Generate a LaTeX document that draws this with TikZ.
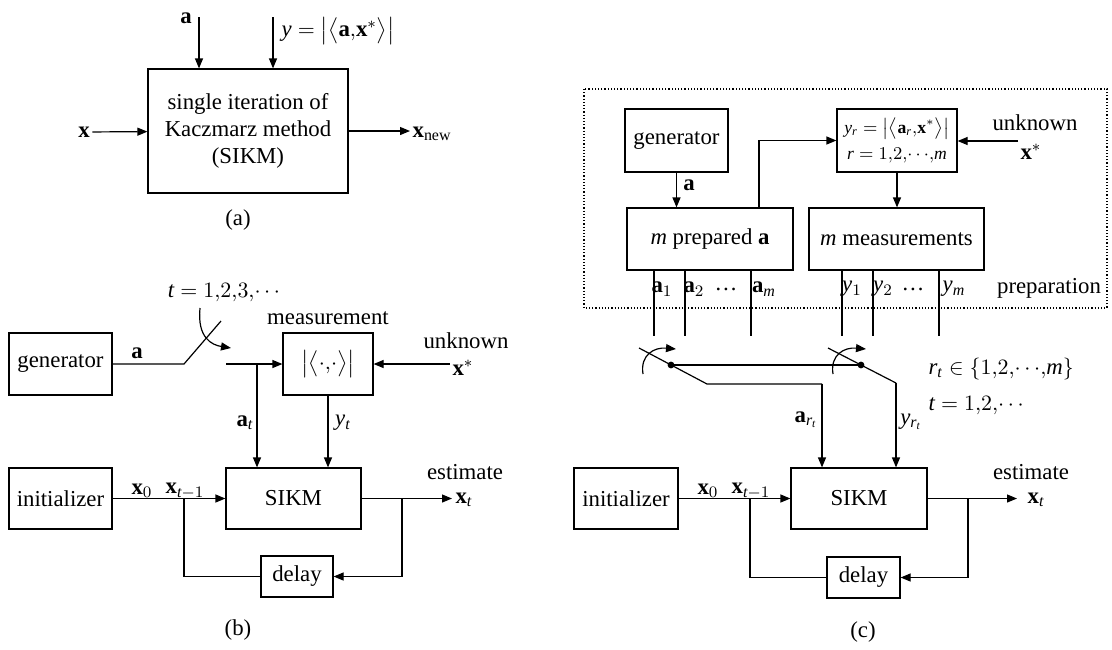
\documentclass[tikz,border=0pt]{standalone}
\usepackage{amsmath}
\usepackage{fontspec}
\setmainfont{Liberation Serif}
\usetikzlibrary{positioning,calc,arrows.meta}

\begin{document}
\begin{tikzpicture}[x=0.5pt, y=-0.5pt, >={Triangle[length=5pt,width=4pt]}, line width=0.6pt]
	\useasboundingbox (0,0) rectangle (1112,649);
	\tikzstyle{every node}=[align=center, inner sep=1pt, font=\fontsize{11.4}{13.5}\selectfont]
	\tikzstyle{blk}=[draw, inner sep=0pt]
	\tikzstyle{small}=[font=\fontsize{8.8}{12}\selectfont]

	% (a)
	\begin{scope}
		\node [blk, minimum width=100pt, minimum height=62pt] (sikmA) at (248, 131) {single iteration of\\Kaczmarz method\\(SIKM)};
		\node (xA) at (84, 132) {$\mathbf{x}$};
		\node [anchor=west] (xnewA) at (410, 134) {$\mathbf{x}_{\mathrm{new}}$};
		\node (aLabA) at (186, 18) {$\mathbf{a}$};
		\node [anchor=west] (yLabA) at (279, 31) {$\mathit{y}=\bigl|\bigl\langle\mathbf{a},\!\mathbf{x}^*\bigr\rangle\bigr|$};
		\node (capA) at (238, 220) {(a)};
		\coordinate (aA) at (199, 17);
		\coordinate (yA) at (273, 17);

		\draw [->] (aA) to (aA |- sikmA.north);
		\draw [->] (yA) to (yA |- sikmA.north);
		\draw [->] (xA) to (sikmA);
		\draw [->] (sikmA.east) to (sikmA.east -| xnewA.west);
	\end{scope}

	% (b)
	\begin{scope}
		\node [blk, minimum width=51.5pt, minimum height=31pt] (genB) at (60.5, 364) {generator};
		\node [blk, minimum width=45pt, minimum height=31pt] (measB) at (328, 364) {$\bigl|\bigl\langle\cdot,\!\cdot\bigr\rangle\bigr|$};
		\node (measLabB) at (328, 318) {measurement};
		\node (tB) at (224, 293) {$\mathit{t}=1,\!2,\!3,\!{\cdots}$};
		\node (aLabB) at (137, 353) {$\mathbf{a}$};
		\node (xsB) at (463, 368) {$\mathbf{x}^*$};
		\node (unkB) at (466, 341) {unknown};
		\node [blk, minimum width=51.5pt, minimum height=30.5pt] (initB) at (60.5, 498.5) {initializer};
		\node [blk, minimum width=67.5pt, minimum height=30.5pt] (sikmB) at (293.5, 498.5) {SIKM};
		\node [blk, minimum width=36pt, minimum height=20.5pt] (delayB) at (297, 576.5) {delay};
		\node (atB) at (245, 423) {$\mathbf{a}_{\mathit{t}}$};
		\node (ytB) at (343, 423) {$\mathit{y}_{\mathit{t}}$};
		\node (x0B) at (142, 491) {$\mathbf{x}_0$};
		\node (xt1B) at (185, 491) {$\mathbf{x}_{\mathit{t}-1}$};
		\node (estB) at (465, 472) {estimate};
		\node (xtB) at (464, 500) {$\mathbf{x}_{\mathit{t}}$};
		\node (capB) at (238, 630) {(b)};
		\coordinate (sw1B) at (184, 364);
		\coordinate (sw2B) at (221, 321);
		\coordinate (sw3B) at (226, 364);
		\coordinate (j1B) at (257, 364);
		\coordinate (j2B) at (184, 498.5);
		\coordinate (j3B) at (402, 498.5);
		\coordinate (tipB) at (452, 498.5);

		\draw [] (genB) to (sw1B) to (sw2B);
		\draw [->] (200, 308) .. controls (197, 338) and (212, 345) .. (231, 348);
		\draw [->] (sw3B) to (measB);
		\draw [->] (j1B) to (j1B |- sikmB.north);
		\draw [->] (measB.south) to (measB.south |- sikmB.north);
		\draw [->] (xsB.west |- measB.east) to (measB.east);
		\draw [->] (initB) to (sikmB);
		\draw [] (j2B) |- (delayB.west);
		\draw [->] (sikmB.east) to (tipB);
		\draw [->] (j3B) |- (delayB.east);
	\end{scope}

	% (c)
	\begin{scope}
		\draw [densely dotted] (584, 89) rectangle (1107, 308);
		\node [blk, minimum width=51.5pt, minimum height=31.5pt] (genC) at (676.5, 140.5) {generator};
		\node [blk, minimum width=60pt, minimum height=31.5pt, small] (formC) at (897, 140.5) {$\mathit{y}_{\mathit{r}}=\bigl|\bigl\langle\mathbf{a}_{\mathit{r}},\!\mathbf{x}^*\bigr\rangle\bigr|$\\[1pt]$\mathit{r}=1,\!2,\!{\cdots},\!\mathit{m}$};
		\node [blk, minimum width=83pt, minimum height=31pt] (prepC) at (710, 239) {$\mathit{m}$ prepared $\mathbf{a}$};
		\node [blk, minimum width=87.5pt, minimum height=31pt] (measC) at (896.5, 239) {$\mathit{m}$ measurements};
		\node (aLabC) at (689, 185) {$\mathbf{a}$};
		\node (xsC) at (1031, 152) {$\mathbf{x}^*$};
		\node (unkC) at (1035, 123) {unknown};
		\node (prepLabC) at (1049, 288) {preparation};
		\node (a1C) at (662, 289) {$\mathbf{a}_1$};
		\node (a2C) at (694, 289) {$\mathbf{a}_2$};
		\node (adC) at (726, 289) {\dots};
		\node (amC) at (764, 289) {$\mathbf{a}_{\mathit{m}}$};
		\node (y1C) at (852, 289) {$\mathit{y}_1$};
		\node (y2C) at (883, 289) {$\mathit{y}_2$};
		\node (ydC) at (913, 289) {\dots};
		\node (ymC) at (954, 289) {$\mathit{y}_{\mathit{m}}$};
		\node [anchor=west] (rtC) at (926, 369) {$\mathit{r}_{\mathit{t}}\in\left\{1,\!2,\!{\cdots},\!\mathit{m}\right\}$};
		\node [anchor=west] (ttC) at (926, 406) {$\mathit{t}=1,\!2,\!{\cdots}$};
		\node (artC) at (806, 420) {$\mathbf{a}_{\mathit{r}_{\mathit{t}}}$};
		\node (yrtC) at (911, 422) {$\mathit{y}_{\mathit{r}_{\mathit{t}}}$};
		\node [blk, minimum width=52pt, minimum height=30.5pt] (initC) at (626, 498.5) {initializer};
		\node [blk, minimum width=68pt, minimum height=30.5pt] (sikmC) at (859, 498.5) {SIKM};
		\node [blk, minimum width=36.5pt, minimum height=20.5pt] (delayC) at (863.5, 577.5) {delay};
		\node (x0C) at (708, 491) {$\mathbf{x}_0$};
		\node (xt1C) at (751, 491) {$\mathbf{x}_{\mathit{t}-1}$};
		\node (estC) at (1031, 472) {estimate};
		\node (xtC) at (1036, 500) {$\mathbf{x}_{\mathit{t}}$};
		\node (capC) at (863, 632) {(c)};
		\coordinate (pvLC) at (671, 365);
		\coordinate (pvRC) at (861, 365);
		\coordinate (bl1C) at (639, 348);
		\coordinate (bl2C) at (707, 384);
		\coordinate (br1C) at (828, 348);
		\coordinate (br2C) at (896, 383);
		\coordinate (aDnC) at (822, 384);
		\coordinate (j1C) at (750, 498.5);
		\coordinate (j2C) at (968, 498.5);
		\coordinate (tipC) at (1017, 498.5);

		\draw [->] (genC.south) to (genC.south |- prepC.north);
		\draw [->] (prepC.north -| 759, 0) |- (formC.west);
		\draw [->] (formC.south) to (formC.south |- measC.north);
		\draw [->] (1018, 141) to (formC.east |- 0, 141);
		\foreach \x in {654, 685, 751, 842, 873, 939}
			\draw [] (\x, 270) to (\x, 336);
		\draw [] (bl1C) to (bl2C) to (aDnC);
		\draw [->] (aDnC) to (aDnC |- sikmC.north);
		\draw [] (br1C) to (br2C);
		\draw [->] (br2C) to (br2C |- sikmC.north);
		\draw [] (pvLC) to (pvRC);
		\fill (pvLC) circle (1.7pt);
		\fill (pvRC) circle (1.7pt);
		\draw [->] (643, 374) .. controls (640, 355) and (654, 347) .. (676, 349);
		\draw [->] (833, 374) .. controls (830, 355) and (844, 347) .. (866, 349);
		\draw [->] (initC) to (sikmC);
		\draw [] (j1C) |- (delayC.west);
		\draw [->] (sikmC.east) to (tipC);
		\draw [->] (j2C) |- (delayC.east);
	\end{scope}
\end{tikzpicture}
\end{document}
